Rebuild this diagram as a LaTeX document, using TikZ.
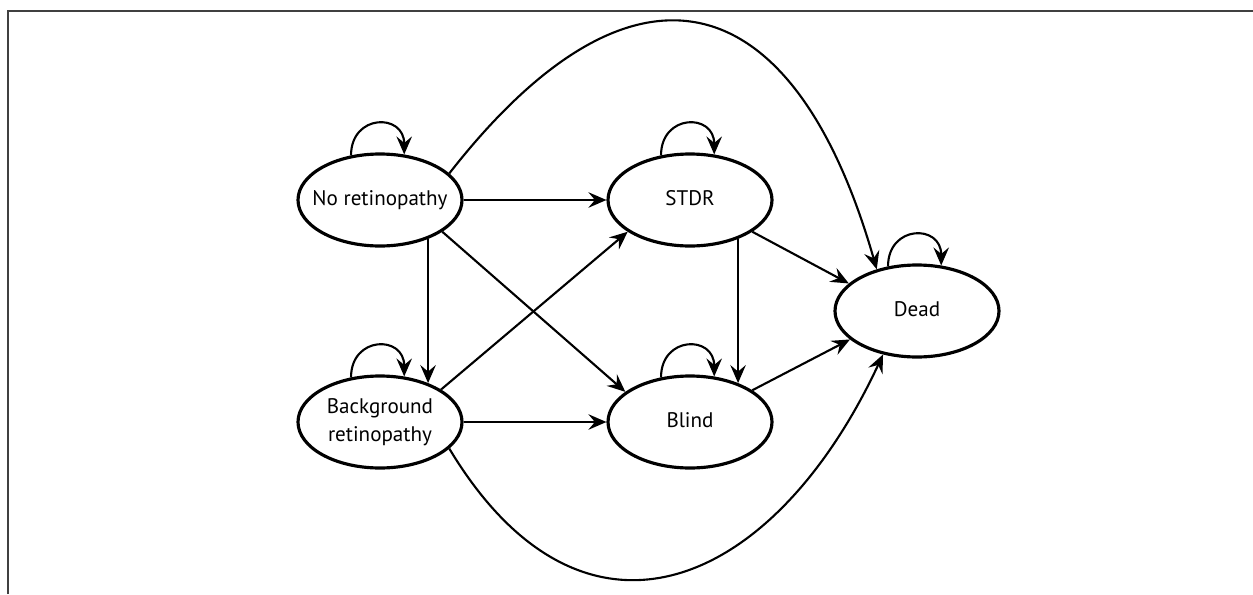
\documentclass[tikz,border=0pt]{standalone}
\usepackage{fontspec}
\setmainfont{PT Sans}
\usetikzlibrary{shapes.geometric,arrows.meta}
\newcommand{\stlabel}[1]{\makebox[0pt]{\begin{tabular}{@{}c@{}}#1\end{tabular}}}

\begin{document}
\begin{tikzpicture}[>={Stealth[length=3.6mm,width=3.1mm,inset=1.3mm]},
        state/.style={draw,ellipse,line width=1.8pt,minimum width=3.28cm,minimum height=1.84cm,
            inner sep=0pt,font=\fontsize{12}{16}\selectfont},
        arr/.style={->,line width=1.2pt}]
        \useasboundingbox (0,0) rectangle (25.06,11.88);
        \draw[line width=0.8pt,black!75] (0.16,0) -- (0.16,11.66) -- (25.06,11.66);
        \node[state] (nr) at (7.6,7.88) {\stlabel{No retinopathy}};
        \node[state] (br) at (7.6,3.44) {\stlabel{Background\\retinopathy}};
        \node[state] (st) at (13.8,7.88) {\stlabel{STDR}};
        \node[state] (bl) at (13.8,3.44) {\stlabel{Blind}};
        \node[state] (dd) at (18.34,5.66) {\stlabel{Dead}};
        \foreach \n in {nr,br,st,bl,dd}
            \draw[arr] (\n.123) to[out=90,in=90,looseness=2] (\n.62);
        \draw[arr] (nr) -- (st); \draw[arr] (br) -- (bl);
        \draw[arr] (nr.-39) -- (br.39); \draw[arr] (st.-39) -- (bl.39);
        \draw[arr] (nr.-27) -- (bl.155); \draw[arr] (br.28) -- (st.-153);
        \draw[arr] (st.-27) -- (dd.158); \draw[arr] (bl.27) -- (dd.-157);
        \draw[arr] (nr.21) to[out=52,in=106,looseness=1.75] (dd.134);
        \draw[arr] (br.-21) to[out=-59,in=245,looseness=1.5] (dd.-128);
    \end{tikzpicture}
\end{document}
